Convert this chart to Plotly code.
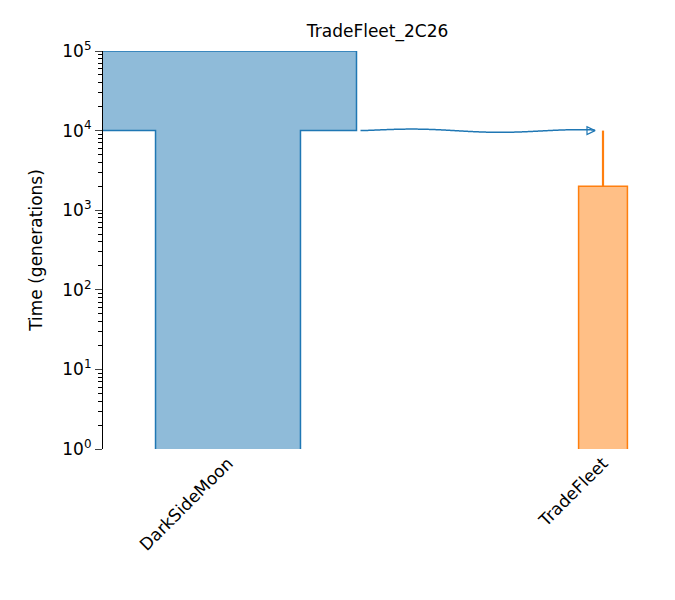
import numpy as np
import plotly.graph_objects as go

demes = ["DarkSideMoon", "TradeFleet"]
centers = [125, 500]
dsm_sizes = [10000, 5640]   # ancestral, recent
dsm_split_time = 1e4
tf_size = 1900
tf_start = 2000
tf_origin = 1e4
scale = 257 / 10000
blue, blue_f = "#1f77b4", "rgba(31,119,180,0.5)"
orange, orange_f = "#ff7f0e", "rgba(255,127,14,0.5)"

fig = go.Figure()
c = centers[0]; w0 = dsm_sizes[0]*scale/2; w1 = dsm_sizes[1]*scale/2
xs = [c-w1, c-w1, c-w0, c-w0, c+w0, c+w0, c+w1, c+w1]
ys = [1, dsm_split_time, dsm_split_time, 1e5, 1e5, dsm_split_time, dsm_split_time, 1]
fig.add_trace(go.Scatter(x=xs, y=ys, fill="toself", fillcolor=blue_f, mode="none", hoverinfo="skip"))
fig.add_trace(go.Scatter(x=xs, y=ys, mode="lines", line=dict(color=blue, width=1.5), hoverinfo="skip"))

c = centers[1]; w = tf_size*scale/2
xs = [c-w, c-w, c+w, c+w]; ys = [1, tf_start, tf_start, 1]
fig.add_trace(go.Scatter(x=xs, y=ys, fill="toself", fillcolor=orange_f, mode="none", hoverinfo="skip"))
fig.add_trace(go.Scatter(x=xs, y=ys, mode="lines", line=dict(color=orange, width=1.5), hoverinfo="skip"))
fig.add_trace(go.Scatter(x=[c, c], y=[tf_start, tf_origin], mode="lines", line=dict(color=orange, width=2.2), hoverinfo="skip"))

# migration wavy arrow
x0, x1 = centers[0] + dsm_sizes[0]*scale/2 + 4, centers[1] - 8
t = np.linspace(0, 1, 400)
wx = x0 + (x1 - x0) * t
wy = 10 ** (4 + 0.022 * np.sin(2 * np.pi * 1.25 * t) * np.sin(np.pi * t) ** 0.3)
fig.add_trace(go.Scatter(x=wx, y=wy, mode="lines", line=dict(color=blue, width=1.5, shape="spline"), hoverinfo="skip"))
fig.add_trace(go.Scatter(x=[x1], y=[1e4], mode="markers",
                         marker=dict(symbol="arrow-right-open", size=8, color=blue, line=dict(color=blue, width=1.2)),
                         hoverinfo="skip"))

minor = [m * 10**d for d in range(0, 5) for m in range(2, 10)]
fig.update_layout(
    width=660, height=585, showlegend=False,
    plot_bgcolor="white", paper_bgcolor="white",
    font=dict(family="DejaVu Sans", size=17, color="black"),
    margin=dict(l=95, r=0, t=43, b=144, autoexpand=False),
    title=dict(text="TradeFleet_2C26", x=0.56, xanchor="center", y=0.96, yanchor="middle", font=dict(size=17)),
    xaxis=dict(range=[0, 565], tickvals=centers, ticktext=demes, tickangle=-45,
               showline=False, showgrid=False, zeroline=False, ticks="", tickfont=dict(size=17)),
    yaxis=dict(type="log", range=[0, 5], tickvals=[10**i for i in range(6)],
               ticktext=[f"10<sup>{i}</sup>" for i in range(6)],
               showline=True, linecolor="black", linewidth=1.2, ticks="outside", ticklen=7,
               showgrid=False, zeroline=False, title=dict(text="Time (generations)", font=dict(size=17)),
               minor=dict(tickvals=minor, ticks="outside", ticklen=4, tickcolor="black")),
)
fig.write_html("out.html")
